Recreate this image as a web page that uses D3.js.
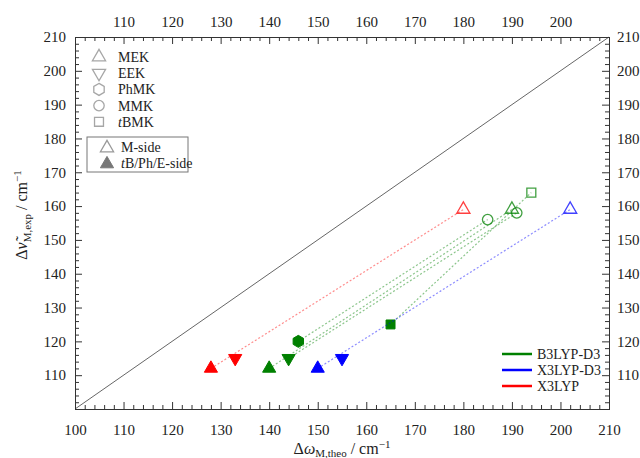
<!DOCTYPE html>
<html>
<head>
<meta charset="utf-8">
<script src="https://cdn.jsdelivr.net/npm/d3@7"></script>
<style>
  body { margin: 0; background: #fff; }
  text { font-family: "Liberation Serif", "DejaVu Serif", serif; fill: #222; }
</style>
</head>
<body>
<script>
// axis ticks
const majorTicks = [100, 110, 120, 130, 140, 150, 160, 170, 180, 190, 200, 210];
const minorTicks = d3.range(100, 211, 2).filter(d => d % 10 !== 0);

// methods
const methods = ['B3LYP-D3', 'X3LYP-D3', 'X3LYP'];
const methodColors = ['#008000', '#0000ff', '#ff0000'];

// molecules (legend)
const molecules = ['MEK', 'EEK', 'PhMK', 'MMK', 'tBMK'];
const moleculeShapes = ['up', 'down', 'hex', 'circle', 'square'];

// points: [molecule, side, theo, exp]
const b3lypD3Points = [
  ['MEK', 'E', 140, 112], ['EEK', 'E', 144, 115], ['PhMK', 'E', 146, 120], ['tBMK', 'E', 165, 125],
  ['MEK', 'M', 190, 159], ['MMK', 'M', 185, 156], ['MMK', 'M', 191, 158], ['tBMK', 'M', 194, 164]
];
const x3lypD3Points = [
  ['MEK', 'E', 150, 112], ['EEK', 'E', 155, 115], ['MEK', 'M', 202, 159]
];
const x3lypPoints = [
  ['MEK', 'E', 128, 112], ['EEK', 'E', 133, 115], ['MEK', 'M', 180, 159]
];
// dotted connectors (index pairs)
const b3lypD3Links = [[0, 4], [1, 6], [2, 5], [3, 7]];
const x3lypD3Links = [[0, 2]];
const x3lypLinks = [[0, 2]];

const W = 640, H = 458;
const m = { left: 75, right: 31, top: 37, bottom: 49 };

const svg = d3.select('body').append('svg')
  .attr('width', W)
  .attr('height', H);

const x = d3.scaleLinear().domain([100, 210]).range([m.left, W - m.right]);
const y = d3.scaleLinear().domain([100, 210]).range([H - m.bottom, m.top]);

const shapeOf = d => moleculeShapes[molecules.indexOf(d)];

function shapePath(shape) {
  if (shape === 'up') return d3.symbol(d3.symbolTriangle, 75)();
  if (shape === 'down') return d3.symbol(d3.symbolTriangle, 75)();
  if (shape === 'square') return d3.symbol(d3.symbolSquare, 80)();
  if (shape === 'circle') return d3.symbol(d3.symbolCircle, 85)();
  // hexagon, pointy top
  const r = 6;
  const pts = d3.range(6).map(i => {
    const a = Math.PI / 3 * i - Math.PI / 2;
    return [r * Math.cos(a), r * Math.sin(a)];
  });
  return 'M' + pts.map(p => p.join(',')).join('L') + 'Z';
}

function drawMarker(g, shape, cx, cy, color, filled) {
  g.append('path')
    .attr('d', shapePath(shape))
    .attr('transform', `translate(${cx},${cy})` + (shape === 'down' ? ' rotate(180)' : ''))
    .attr('fill', filled ? color : 'none')
    .attr('stroke', color)
    .attr('stroke-width', filled ? 1 : 1.3)
    .attr('stroke-opacity', filled ? 1 : 0.75);
}

// y = x diagonal
svg.append('line')
  .attr('x1', x(100)).attr('y1', y(100))
  .attr('x2', x(210)).attr('y2', y(210))
  .attr('stroke', '#666')
  .attr('stroke-width', 1);

// series
const series = [
  { points: b3lypD3Points, links: b3lypD3Links, color: methodColors[0] },
  { points: x3lypD3Points, links: x3lypD3Links, color: methodColors[1] },
  { points: x3lypPoints, links: x3lypLinks, color: methodColors[2] }
];

series.forEach(s => {
  const g = svg.append('g');
  g.selectAll('line')
    .data(s.links)
    .enter()
    .append('line')
    .attr('x1', d => x(s.points[d[0]][2]))
    .attr('y1', d => y(s.points[d[0]][3]))
    .attr('x2', d => x(s.points[d[1]][2]))
    .attr('y2', d => y(s.points[d[1]][3]))
    .attr('stroke', s.color)
    .attr('stroke-width', 1.2)
    .attr('stroke-opacity', 0.45)
    .attr('stroke-dasharray', '2,2');

  s.points.forEach(p => {
    drawMarker(g, shapeOf(p[0]), x(p[2]), y(p[3]), s.color, p[1] === 'E');
  });
});

// axes, ticks pointing inward
const axisStyle = (g) => {
  g.selectAll('path').attr('stroke', '#333');
  g.selectAll('line').attr('stroke', '#333');
  g.selectAll('text')
    .style('font-family', '"Liberation Serif", serif')
    .style('font-size', '15px')
    .attr('fill', '#222');
};

const makeAxes = (axisFn, transform, pad, showLabel) => {
  svg.append('g')
    .attr('transform', transform)
    .call(axisFn.tickValues(minorTicks).tickSize(-4).tickFormat(''))
    .call(axisStyle);
  const g = svg.append('g')
    .attr('transform', transform)
    .call(axisFn.tickValues(majorTicks).tickSizeInner(-7).tickSizeOuter(0).tickPadding(pad)
      .tickFormat(d => (showLabel(d) ? d : '')))
    .call(axisStyle);
  return g;
};

makeAxes(d3.axisBottom(x), `translate(0,${y(100)})`, 15, () => true);
makeAxes(d3.axisTop(x), `translate(0,${y(210)})`, 10, d => d !== 100 && d !== 210);
makeAxes(d3.axisLeft(y), `translate(${x(100)},0)`, 9, d => d !== 100);
makeAxes(d3.axisRight(y), `translate(${x(210)},0)`, 8, d => d !== 100);

// axis titles
const xt = svg.append('text')
  .attr('x', (x(100) + x(210)) / 2)
  .attr('y', 454)
  .attr('text-anchor', 'middle')
  .style('font-size', '16px');
xt.append('tspan').text('Δ');
xt.append('tspan').style('font-style', 'italic').text('ω');
xt.append('tspan').attr('dy', 3).style('font-size', '11px').text('M,theo');
xt.append('tspan').attr('dy', -3).text(' / cm');
xt.append('tspan').attr('dy', -6).style('font-size', '11px').text('−1');

const yt = svg.append('text')
  .attr('transform', `translate(27,${(y(100) + y(210)) / 2 - 8}) rotate(-90)`)
  .attr('text-anchor', 'middle')
  .style('font-size', '16px');
yt.append('tspan').text('Δ');
yt.append('tspan').style('font-style', 'italic').text('ν\u0303');
yt.append('tspan').attr('dy', 4).style('font-size', '11px').text('M,exp');
yt.append('tspan').attr('dy', -4).text(' / cm');
yt.append('tspan').attr('dy', -6).style('font-size', '11px').text('−1');

// molecule legend
const legend1 = svg.append('g');
molecules.forEach((name, i) => {
  const ly = 57 + i * 16.2;
  drawMarker(legend1, moleculeShapes[i], 99, ly, '#888', false);
  const t = legend1.append('text')
    .attr('x', 118)
    .attr('y', ly + 5)
    .style('font-size', '14px');
  if (name.startsWith('t')) {
    t.append('tspan').style('font-style', 'italic').text('t');
    t.append('tspan').text(name.slice(1));
  } else {
    t.text(name);
  }
});

// side legend (boxed)
const legend2 = svg.append('g');
legend2.append('rect')
  .attr('x', 87).attr('y', 137)
  .attr('width', 101).attr('height', 35)
  .attr('fill', '#fff')
  .attr('stroke', '#777');
const sides = ['M-side', 'tB/Ph/E-side'];
sides.forEach((label, i) => {
  const ly = 147 + i * 16;
  drawMarker(legend2, 'up', 107, ly + 1, '#777', i === 1);
  const t = legend2.append('text')
    .attr('x', 121)
    .attr('y', ly + 5)
    .style('font-size', '14px');
  if (i === 1) {
    t.append('tspan').style('font-style', 'italic').text('t');
    t.append('tspan').text(label.slice(1));
  } else {
    t.text(label);
  }
});

// method legend
const legend3 = svg.append('g');
methods.forEach((name, i) => {
  const ly = 354 + i * 16;
  legend3.append('line')
    .attr('x1', 502).attr('x2', 532)
    .attr('y1', ly).attr('y2', ly)
    .attr('stroke', methodColors[i])
    .attr('stroke-width', 2.5);
  legend3.append('text')
    .attr('x', 537)
    .attr('y', ly + 5)
    .style('font-size', '14px')
    .text(name);
});
</script>
</body>
</html>
